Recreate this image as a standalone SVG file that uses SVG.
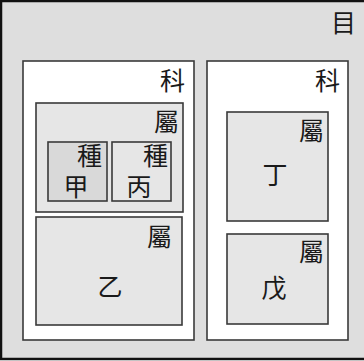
<svg xmlns="http://www.w3.org/2000/svg" width="364" height="361" viewBox="0 0 364 361">
<style>
.t{font-family:"Noto Sans CJK TC","Noto Sans CJK SC",sans-serif;font-size:25px;fill:#1a1a1a;}
.e{text-anchor:end}
.m{text-anchor:middle}
.ke{fill:#ffffff;stroke:#3a3a3a;stroke-width:1.6}
.shu{fill:#e6e6e6;stroke:#3a3a3a;stroke-width:1.6}
</style>
<rect width="364" height="361" fill="#ffffff"/>
<g id="mu">
<rect x="1" y="1" width="366" height="358" fill="#dedede" stroke="#111" stroke-width="2.5"/>
<text class="t e" x="356" y="32">目</text>
</g>
<g id="ke1">
<rect class="ke" x="23" y="61" width="171" height="279"/>
<text class="t e" x="185" y="90">科</text>
</g>
<g id="ke2">
<rect class="ke" x="207" y="61" width="141" height="279"/>
<text class="t e" x="340" y="90">科</text>
</g>
<g id="shu1">
<rect class="shu" x="36" y="103" width="147" height="109"/>
<text class="t e" x="179" y="131">屬</text>
</g>
<g id="zhong-jia">
<rect x="48" y="142" width="59" height="59" fill="#d9d9d9" stroke="#3a3a3a" stroke-width="1.6"/>
<text class="t e" x="102" y="165">種</text>
<text class="t m" x="76" y="196">甲</text>
</g>
<g id="zhong-bing">
<rect class="shu" x="112" y="142" width="59" height="59"/>
<text class="t e" x="168" y="165">種</text>
<text class="t m" x="139" y="196">丙</text>
</g>
<g id="shu-yi">
<rect class="shu" x="36" y="217" width="146" height="108"/>
<text class="t e" x="172" y="246">屬</text>
<text class="t m" x="110" y="296">乙</text>
</g>
<g id="shu-ding">
<rect class="shu" x="227" y="112" width="101" height="109"/>
<text class="t e" x="324" y="140">屬</text>
<text class="t m" x="275" y="184">丁</text>
</g>
<g id="shu-wu">
<rect class="shu" x="227" y="234" width="101" height="90"/>
<text class="t e" x="324" y="261">屬</text>
<text class="t m" x="274" y="297">戊</text>
</g>
<g id="connectors"/>
</svg>
